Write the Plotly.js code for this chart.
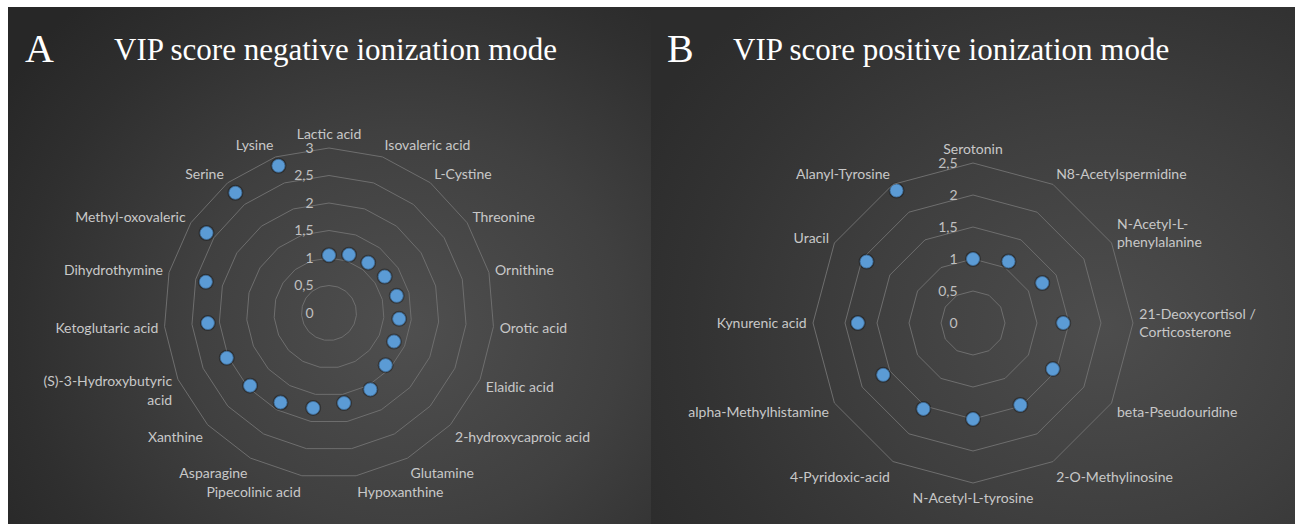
<!DOCTYPE html>
<html>
<head>
<meta charset="utf-8">
<script src="https://cdn.plot.ly/plotly-3.0.1.min.js"></script>
<style>
  html, body { margin: 0; padding: 0; background: #ffffff; }
  #wrap { position: relative; width: 1299px; height: 524px; overflow: hidden; background: #ffffff; }
  .bg { position: absolute; }
  #bgA { left: 8px; top: 7px; width: 643px; height: 517px;
    background: radial-gradient(ellipse 75% 85% at 62% 62%, #4f4f4f 0%, #404040 45%, #2f2f2f 80%, #272727 100%); }
  #bgB { left: 651px; top: 7px; width: 644px; height: 517px;
    background: radial-gradient(ellipse 80% 85% at 70% 62%, #4d4d4d 0%, #3f3f3f 45%, #323232 80%, #2c2c2c 100%); }
  #plot { position: absolute; left: 0; top: 0; width: 1299px; height: 524px; }
</style>
</head>
<body>
<div id="wrap">
  <div class="bg" id="bgA"></div>
  <div class="bg" id="bgB"></div>
  <div id="plot"></div>
</div>
<script>
// ---- Data: VIP scores, negative ionization mode (panel A) ----
const negCategories = [
  "Lactic acid", "Isovaleric acid", "L-Cystine", "Threonine", "Ornithine",
  "Orotic acid", "Elaidic acid", "2-hydroxycaproic acid", "Glutamine", "Hypoxanthine",
  "Pipecolinic acid", "Asparagine", "Xanthine", "(S)-3-Hydroxybutyric<br>acid",
  "Ketoglutaric acid", "Dihydrothymine", "Methyl-oxovaleric", "Serine", "Lysine"
];
const negValues = [
  1.05, 1.12, 1.16, 1.21, 1.27,
  1.28, 1.29, 1.40, 1.58, 1.66,
  1.75, 1.85, 1.95, 2.03,
  2.21, 2.31, 2.66, 2.77, 2.83
];

// ---- Data: VIP scores, positive ionization mode (panel B) ----
const posCategories = [
  "Serotonin", "N8-Acetylspermidine", "N-Acetyl-L-<br>phenylalanine",
  "21-Deoxycortisol /<br>Corticosterone", "beta-Pseudouridine", "2-O-Methylinosine",
  "N-Acetyl-L-tyrosine", "4-Pyridoxic-acid", "alpha-Methylhistamine",
  "Kynurenic acid", "Uracil", "Alanyl-Tyrosine"
];
const posValues = [
  1.00, 1.11, 1.25,
  1.41, 1.44, 1.48,
  1.50, 1.55, 1.62,
  1.80, 1.92, 2.39
];

const panelLetters = ["A", "B"];
const panelTitles = ["VIP score negative ionization mode", "VIP score positive ionization mode"];

const labelFont = { family: "Lato, 'Open Sans', sans-serif", size: 14, color: "#c8c8c8" };
const gridColor = "#6e6e6e";
const markerColor = "#5b9bd5";

function polarCfg(domainX, domainY, cats, rmax) {
  return {
    domain: { x: domainX, y: domainY },
    bgcolor: "rgba(0,0,0,0)",
    gridshape: "linear",
    angularaxis: {
      type: "category",
      categoryorder: "array",
      categoryarray: cats,
      direction: "clockwise",
      rotation: 90,
      showgrid: false,
      showline: true,
      linecolor: gridColor,
      linewidth: 1,
      ticks: "outside",
      ticklen: 3,
      tickcolor: "rgba(0,0,0,0)",
      tickfont: labelFont
    },
    radialaxis: {
      range: [0, rmax],
      dtick: 0.5,
      tick0: 0,
      angle: 90,
      tickangle: 90,
      side: "counterclockwise",
      showline: false,
      ticks: "outside",
      ticklen: 10,
      tickcolor: "rgba(0,0,0,0)",
      gridcolor: gridColor,
      gridwidth: 1,
      tickfont: { family: "Lato, 'Open Sans', sans-serif", size: 14, color: "#c0c0c0" }
    }
  };
}

function markerTrace(cats, vals, subplot) {
  return {
    type: "scatterpolar",
    mode: "markers",
    r: vals,
    theta: cats,
    subplot: subplot,
    marker: { color: markerColor, size: 13, line: { color: "#3f6f9c", width: 0.8 } },
    hoverinfo: "theta+r",
    showlegend: false
  };
}

// subtle drop shadow layer under markers
function shadowTrace(cats, vals, subplot) {
  return {
    type: "scatterpolar",
    mode: "markers",
    r: vals,
    theta: cats,
    subplot: subplot,
    marker: { color: "rgba(0,0,0,0.3)", size: 16 },
    hoverinfo: "skip",
    showlegend: false
  };
}

const data = [
  shadowTrace(negCategories, negValues, "polar"),
  markerTrace(negCategories, negValues, "polar"),
  shadowTrace(posCategories, posValues, "polar2"),
  markerTrace(posCategories, posValues, "polar2")
];

const W = 1299, H = 524;
const layout = {
  width: W, height: H,
  margin: { l: 0, r: 0, t: 0, b: 0 },
  paper_bgcolor: "rgba(0,0,0,0)",
  plot_bgcolor: "rgba(0,0,0,0)",
  separators: ", ",
  showlegend: false,
  polar: polarCfg([164 / W, 494 / W], [46 / H, 376 / H], negCategories, 3),
  polar2: polarCfg([813 / W, 1133 / W], [41 / H, 361 / H], posCategories, 2.5),
  annotations: [
    { text: panelLetters[0], xref: "paper", yref: "paper", x: 23 / W, y: (H - 48) / H,
      xanchor: "left", yanchor: "middle", showarrow: false,
      font: { family: "'Liberation Serif', 'DejaVu Serif', serif", size: 40, color: "#ffffff" } },
    { text: panelTitles[0], xref: "paper", yref: "paper", x: 112 / W, y: (H - 50) / H,
      xanchor: "left", yanchor: "middle", showarrow: false,
      font: { family: "'Liberation Serif', 'DejaVu Serif', serif", size: 31, color: "#ffffff" } },
    { text: panelLetters[1], xref: "paper", yref: "paper", x: 665 / W, y: (H - 48) / H,
      xanchor: "left", yanchor: "middle", showarrow: false,
      font: { family: "'Liberation Serif', 'DejaVu Serif', serif", size: 40, color: "#ffffff" } },
    { text: panelTitles[1], xref: "paper", yref: "paper", x: 731 / W, y: (H - 50) / H,
      xanchor: "left", yanchor: "middle", showarrow: false,
      font: { family: "'Liberation Serif', 'DejaVu Serif', serif", size: 31, color: "#ffffff" } }
  ]
};

Plotly.newPlot("plot", data, layout, { displayModeBar: false, staticPlot: true });
</script>
</body>
</html>
